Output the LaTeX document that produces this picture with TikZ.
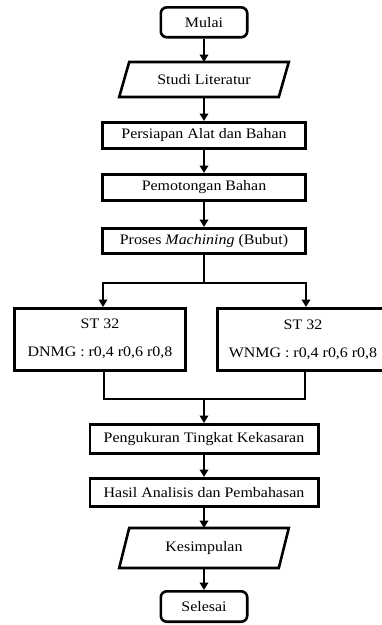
\documentclass[tikz,border=0pt]{standalone}
\usepackage{fontspec}
\setmainfont{Liberation Serif}[FakeStretch=1.1]
\usetikzlibrary{arrows.meta}
\begin{document}
\begin{tikzpicture}[x=1pt,y=-1pt,
  txt/.style={font=\fontsize{14.5}{28}\selectfont, inner sep=0pt, align=center},
  box/.style={txt, draw, line width=2.6pt},
  plain/.style={txt, line width=2.6pt},
  conn/.style={line width=2.2pt},
  arr/.style={conn, -{Triangle[length=7.5pt,width=8.5pt]}}]
\useasboundingbox (0,0) rectangle (382,625);

\node[box, rounded corners=6pt, minimum width=86.4pt, minimum height=29.9pt] (start) at (204,22.3) {Mulai};
\node[plain, minimum width=157pt, minimum height=32.4pt] (studi) at (204,79.5) {Studi Literatur};
\draw[line width=2.6pt] ([xshift=5pt]studi.north west) -- ([xshift=5pt]studi.north east)
  -- ([xshift=-5pt]studi.south east) -- ([xshift=-5pt]studi.south west) -- cycle;
\node[box, minimum width=203.4pt, minimum height=26.4pt] (persiapan) at (204,135.5) {Persiapan Alat dan Bahan};
\node[box, minimum width=203.4pt, minimum height=26.4pt] (potong) at (204,187.5) {Pemotongan Bahan};
\node[box, minimum width=203.4pt, minimum height=25.4pt] (proses) at (204,241) {Proses \textit{Machining} (Bubut)};
\node[box, minimum width=171.4pt, minimum height=62pt] (left) at (100,339.3) {ST 32\\DNMG : r0,4 r0,6 r0,8};
\node[box, minimum width=171.4pt, minimum height=62.4pt] (right) at (303,339.5) {ST 32\\WNMG : r0,4 r0,6 r0,8};
\node[box, minimum width=228.4pt, minimum height=29.4pt] (ukur) at (204,439) {Pengukuran Tingkat Kekasaran};
\node[box, minimum width=228.4pt, minimum height=28.4pt] (hasil) at (204,492.5) {Hasil Analisis dan Pembahasan};
\node[plain, minimum width=157pt, minimum height=37.4pt] (simpul) at (204,548) {Kesimpulan};
\draw[line width=2.6pt] ([xshift=5pt]simpul.north west) -- ([xshift=5pt]simpul.north east)
  -- ([xshift=-5pt]simpul.south east) -- ([xshift=-5pt]simpul.south west) -- cycle;
\node[box, rounded corners=6pt, minimum width=86.4pt, minimum height=30.4pt] (end) at (204,606.5) {Selesai};

\draw[arr] (start) -- (studi);
\draw[arr] (studi) -- (persiapan);
\draw[arr] (persiapan) -- (potong);
\draw[arr] (potong) -- (proses);
\coordinate (split) at (204,283);
\draw[conn] (proses.south) -- (split);
\draw[arr] ([xshift=1pt]split) -| ([xshift=3pt]left.north);
\draw[arr] ([xshift=-1pt]split) -| ([xshift=3pt]right.north);
\coordinate (merge) at (204,399);
\draw[conn] ([xshift=4pt]left.south) |- ([xshift=1pt]merge);
\draw[conn] ([xshift=2pt]right.south) |- ([xshift=-1pt]merge);
\draw[arr] (merge) -- (ukur);
\draw[arr] (ukur) -- (hasil);
\draw[arr] (hasil) -- (simpul);
\draw[arr] (simpul) -- (end);
\end{tikzpicture}
\end{document}
